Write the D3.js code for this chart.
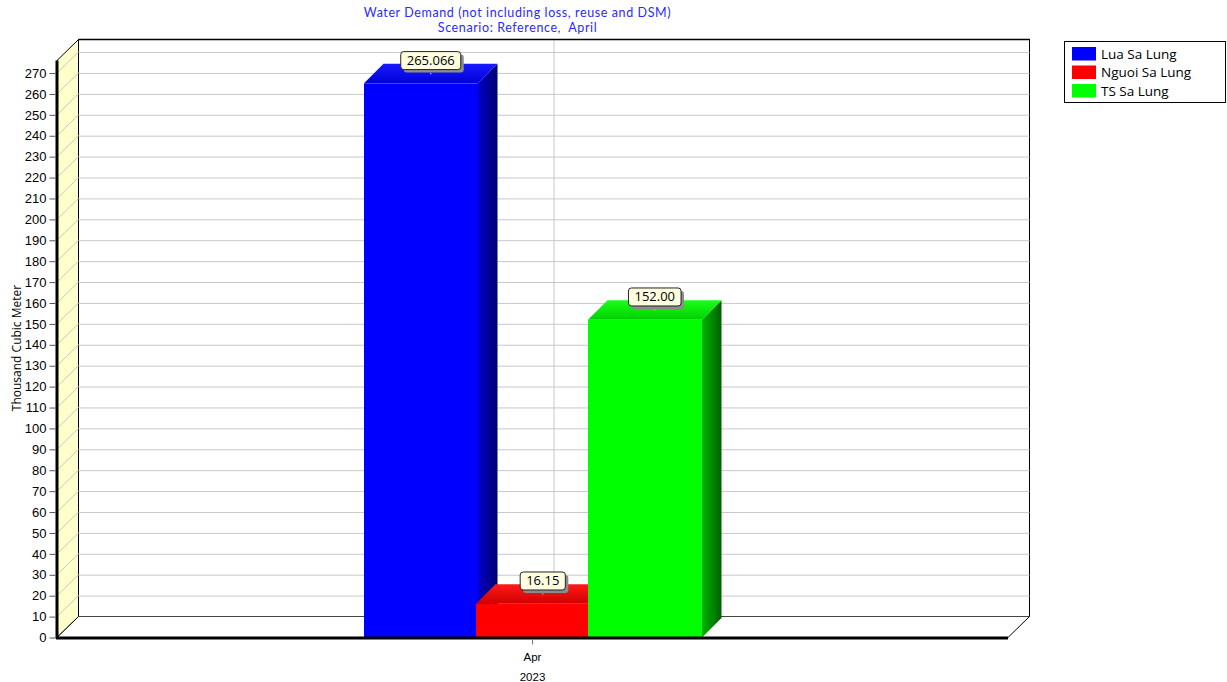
<!DOCTYPE html>
<html><head><meta charset="utf-8">
<script src="https://cdn.jsdelivr.net/npm/d3@7"></script>
<style>body{margin:0;background:#fff}svg{display:block}text{white-space:pre}</style>
</head><body>
<script>
const titleLines = ["Water Demand (not including loss, reuse and DSM)", "Scenario: Reference,  April"];
const categories = ["Apr"];
const yearLabel = "2023";
const seriesNames = ["Lua Sa Lung", "Nguoi Sa Lung", "TS Sa Lung"];
const seriesValues = [265.066, 16.15, 152.00];
const valueLabels = ["265.066", "16.15", "152.00"];
const seriesColors = ["#0000ff", "#ff0000", "#00ff00"];
const sideColors = [["#0000c8", "#000070"], ["#c80000", "#700000"], ["#00b400", "#006000"]];
const topColors = [["#0000d8", "#1a1aff"], ["#d00000", "#ff1a1a"], ["#00d000", "#1aff1a"]];
const yTicks = d3.range(0, 271, 10);
const yLabel = "Thousand Cubic Meter";

const W = 1227, H = 682;
const svg = d3.select("body").append("svg").attr("width", W).attr("height", H);
const defs = svg.append("defs");

const x0 = 57, x1 = 1008, dx = 21.5, dy = 21;
const y = d3.scaleLinear().domain([0, 276]).range([637.5, 60.5]);
const xc = d3.scaleBand().domain(categories).range([x0, x1]);
const xs = d3.scaleBand().domain(seriesNames).range([364, 700]);
const bw = xs.bandwidth() + 2;
const bd = 19.5;

// back wall
svg.append("rect").attr("x", x0 + dx).attr("y", y(276) - dy).attr("width", x1 - x0).attr("height", y(0) - y(276))
  .attr("fill", "#fff").attr("stroke", "#000").attr("stroke-width", 1);
// left wall
svg.append("path").attr("d", `M${x0},${y(0)} L${x0},${y(276)} L${x0+dx},${y(276)-dy} L${x0+dx},${y(0)-dy} Z`)
  .attr("fill", "#ffffcc").attr("stroke", "#000").attr("stroke-width", 1);
// floor
svg.append("path").attr("d", `M${x0},${y(0)} L${x0+dx},${y(0)-dy} L${x1+dx},${y(0)-dy} L${x1},${y(0)} Z`)
  .attr("fill", "#fff").attr("stroke", "#000").attr("stroke-width", 1);

// gridlines
const grid = svg.append("g").attr("stroke", "#c8c8c8").attr("stroke-width", 1).attr("fill", "none");
yTicks.filter(v => v > 0).forEach(v => {
  const yy = y(v);
  grid.append("line").attr("x1", x0 + dx).attr("x2", x1 + dx).attr("y1", yy - dy + 0.5).attr("y2", yy - dy + 0.5);
  grid.append("line").attr("x1", x0).attr("x2", x0 + dx).attr("y1", yy).attr("y2", yy - dy);
});
categories.forEach(c => {
  const cx = xc(c) + xc.bandwidth() / 2 + dx;
  grid.append("line").attr("x1", cx).attr("x2", cx).attr("y1", y(276) - dy + 1).attr("y2", y(0) - dy);
});
svg.append("line").attr("x1", x0 + dx).attr("x2", x1 + dx).attr("y1", y(276) - dy).attr("y2", y(276) - dy).attr("stroke", "#000").attr("stroke-width", 1.5);
svg.append("line").attr("x1", x0 + dx).attr("x2", x1 + dx).attr("y1", y(0) - dy).attr("y2", y(0) - dy).attr("stroke", "#444").attr("stroke-width", 1.2);

// gradients
seriesNames.forEach((s, i) => {
  const gs = defs.append("linearGradient").attr("id", "side" + i).attr("x1", "0").attr("x2", "1").attr("y1", "0").attr("y2", "0");
  gs.append("stop").attr("offset", "0").attr("stop-color", sideColors[i][0]);
  gs.append("stop").attr("offset", "1").attr("stop-color", sideColors[i][1]);
  const gt = defs.append("linearGradient").attr("id", "top" + i).attr("x1", "0").attr("x2", "0").attr("y1", "1").attr("y2", "0");
  gt.append("stop").attr("offset", "0").attr("stop-color", topColors[i][0]);
  gt.append("stop").attr("offset", "1").attr("stop-color", topColors[i][1]);
});

// bars
const bars = svg.append("g");
seriesNames.forEach((s, i) => {
  const bx = xs(s), yt = y(seriesValues[i]), yb = y(0);
  const g = bars.append("g");
  g.append("path").attr("d", `M${bx+bw},${yb} L${bx+bw},${yt} L${bx+bw+bd},${yt-bd} L${bx+bw+bd},${yb-bd} Z`).attr("fill", `url(#side${i})`);
  g.append("path").attr("d", `M${bx},${yt} L${bx+bd},${yt-bd} L${bx+bw+bd},${yt-bd} L${bx+bw},${yt} Z`).attr("fill", `url(#top${i})`);
  g.append("rect").attr("x", bx).attr("y", yt).attr("width", bw).attr("height", yb - yt).attr("fill", seriesColors[i]);
});

// value labels
const lab = svg.append("g").attr("font-family", "'Open Sans', 'Noto Sans', sans-serif").attr("font-size", 13);
seriesNames.forEach((s, i) => {
  const ax = xs(s) + bw / 2 + bd / 2, ay = y(seriesValues[i]) - bd / 2;
  const t = lab.append("text").attr("x", ax).attr("y", ay - 9).attr("text-anchor", "middle").attr("fill", "#000").text(valueLabels[i]);
  const bb = t.node().getBBox();
  const w = bb.width + 12, h = 18;
  const rx = ax - w / 2, ry = ay - 4 - h;
  lab.insert("rect", "text").attr("x", rx + 3).attr("y", ry + 3).attr("width", w).attr("height", h).attr("rx", 3).attr("fill", "#8c8c8c");
  lab.insert("rect", "text").attr("x", rx).attr("y", ry).attr("width", w).attr("height", h).attr("rx", 3).attr("fill", "#ffffe0").attr("stroke", "#222").attr("stroke-width", 1);
  t.attr("y", ry + 13.5);
  lab.append("circle").attr("cx", ax).attr("cy", ay).attr("r", 0.8).attr("fill", "#aaa");
});

// front edges
svg.append("line").attr("x1", x0).attr("x2", x0).attr("y1", y(276)).attr("y2", y(0) + 1).attr("stroke", "#000").attr("stroke-width", 3);
svg.append("line").attr("x1", x0 - 1).attr("x2", x1).attr("y1", y(0) + 0.5).attr("y2", y(0) + 0.5).attr("stroke", "#000").attr("stroke-width", 3);

// y axis
const yAxis = d3.axisLeft(y).tickValues(yTicks).tickSize(6).tickPadding(3).tickFormat(d3.format("d"));
const ya = svg.append("g").attr("transform", `translate(${x0 - 1.5},0)`).call(yAxis);
ya.select(".domain").remove();
ya.selectAll("line").attr("stroke", "#555");
ya.selectAll("text").attr("font-family", "'Liberation Sans', Arial, sans-serif").attr("font-size", 13).attr("fill", "#000");

// x axis
const xa = svg.append("g").attr("transform", `translate(0,${y(0) + 2})`).call(d3.axisBottom(xc).tickSize(5).tickPadding(8));
xa.select(".domain").remove();
xa.selectAll("line").attr("stroke", "#777");
xa.selectAll("text").attr("font-family", "'Liberation Sans', Arial, sans-serif").attr("font-size", 11.5).attr("fill", "#000");
categories.forEach(c => {
  svg.append("text").attr("x", xc(c) + xc.bandwidth() / 2).attr("y", 681).attr("text-anchor", "middle")
    .attr("font-family", "'Liberation Sans', Arial, sans-serif").attr("font-size", 11.5).text(yearLabel);
});

// y label
svg.append("text").attr("transform", "translate(21,348) rotate(-90)").attr("text-anchor", "middle")
  .attr("font-family", "'Open Sans', 'Noto Sans', sans-serif").attr("font-size", 12).attr("fill", "#000").text(yLabel);

// title
titleLines.forEach((t, i) => {
  svg.append("text").attr("x", 517.5).attr("y", 17 + i * 14.5).attr("text-anchor", "middle")
    .attr("font-family", "Lato, 'Open Sans', sans-serif").attr("font-size", 12.5).attr("letter-spacing", 0.6).attr("fill", "#2a2aff").text(t);
});

// legend
const lg = svg.append("g");
lg.append("rect").attr("x", 1064.5).attr("y", 41.5).attr("width", 161).attr("height", 61).attr("fill", "#fff").attr("stroke", "#000");
seriesNames.forEach((s, i) => {
  lg.append("rect").attr("x", 1072).attr("y", 47 + i * 18.5).attr("width", 24).attr("height", 13.5).attr("fill", seriesColors[i]);
  lg.append("text").attr("x", 1101).attr("y", 58.5 + i * 18.5).attr("font-family", "'Open Sans', 'Noto Sans', sans-serif").attr("font-size", 13.5).attr("fill", "#000").text(s);
});
</script>
</body></html>
